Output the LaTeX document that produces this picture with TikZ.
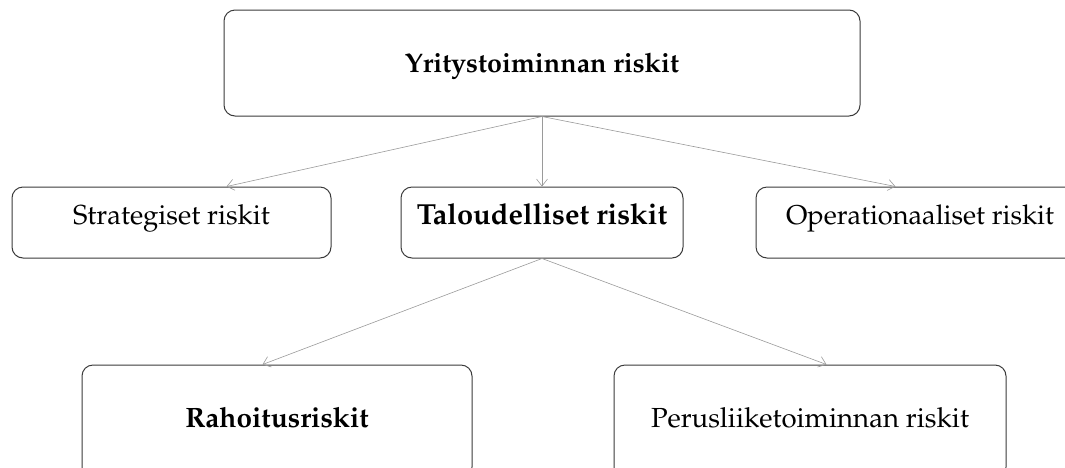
\documentclass[tikz,border=0pt]{standalone}
\usepackage[T1]{fontenc}
\usepackage{mathpazo}
\usetikzlibrary{arrows.meta}
\definecolor{boxline}{HTML}{3A3A3A}
\definecolor{linkgray}{HTML}{9A9A9A}
\newcommand{\boxfont}[1]{\fontsize{#1}{#1}\selectfont}
\tikzset{
  riskbox/.style={draw=boxline, line width=1pt, rounded corners=11pt,
    inner sep=0pt, align=center},
  rowtwo/.style={riskbox, minimum height=71pt, text height=20pt, text depth=17pt},
  rowthree/.style={riskbox, minimum height=113pt, text height=20pt, text depth=9pt},
  link/.style={draw=linkgray, line width=0.6pt,
    -{Straight Barb[length=7pt,width=11pt,line width=0.6pt]}},
}
\begin{document}
\begin{tikzpicture}[x=1pt,y=-1pt]
  \useasboundingbox (0,0) rectangle (1065,467);
  \clip (0,0) rectangle (1065,467);
  % top level
  \node[riskbox, minimum width=636pt, minimum height=106pt,
        text height=24pt, text depth=6pt, font=\boxfont{26.9}] (top) at (542,63)
    {\textbf{Yritystoiminnan riskit}};
  % second level
  \node[rowtwo, minimum width=319pt, font=\boxfont{27.5}] (strat) at (171.5,222.5)
    {Strategiset riskit};
  \node[rowtwo, minimum width=282pt, font=\boxfont{29}] (talo) at (542,222.5)
    {\textbf{Taloudelliset riskit}};
  \node[rowtwo, minimum width=328pt, font=\boxfont{27.2}] (oper) at (920,222.5)
    {Operationaaliset riskit};
  % third level
  \node[rowthree, minimum width=390pt, font=\boxfont{28}] (raho) at (277,421.5)
    {\textbf{Rahoitusriskit}};
  \node[rowthree, minimum width=392pt, font=\boxfont{27.6}] (perus) at (810,421.5)
    {Perusliiketoiminnan riskit};
  % connectors
  \draw[link] (top.south) -- ([xshift=215pt]strat.north west);
  \draw[link] (top.south) -- (talo.north);
  \draw[link] (top.south) -- ([xshift=140pt]oper.north west);
  \draw[link] (talo.south) -- ([xshift=181pt]raho.north west);
  \draw[link] (talo.south) -- ([xshift=213pt]perus.north west);
\end{tikzpicture}
\end{document}
